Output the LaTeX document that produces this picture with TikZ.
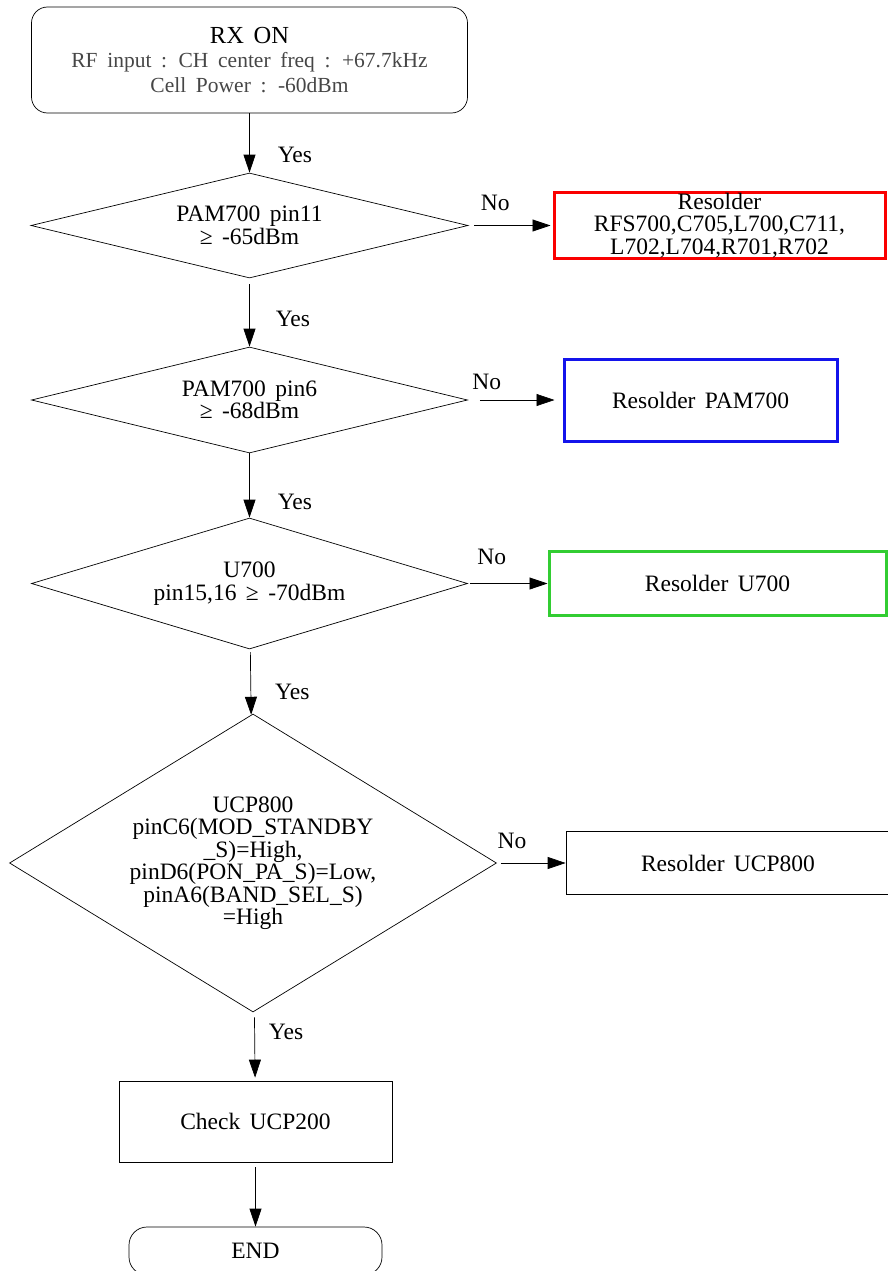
\documentclass[tikz,border=0pt]{standalone}
\usepackage{fontspec}
\setmainfont{Liberation Serif}
\usepackage{xcolor}
\usetikzlibrary{arrows.meta,positioning,shapes.geometric}
\definecolor{txtgray}{RGB}{70,70,70}
\definecolor{bdred}{RGB}{250,0,0}
\definecolor{bdblue}{RGB}{20,20,235}
\definecolor{bdgreen}{RGB}{50,205,50}
\newcommand\widesp{\spaceskip=0.4em plus 0.1em\relax}
\newcommand\widersp{\spaceskip=0.45em plus 0.1em\relax}

\begin{document}
\begin{tikzpicture}[
  x=1pt, y=-1pt, >={Triangle[length=18pt,width=12pt]}, line width=0.7pt,
  font=\fontsize{23.5}{22.5}\selectfont\widesp,
  term/.style={rectangle, rounded corners=16pt, draw, align=center, inner sep=0pt},
  test/.style={diamond, draw, align=center, inner sep=0pt},
  fixbox/.style={rectangle, draw, align=center, inner sep=0pt},
  lab/.style={inner sep=0pt}
]
\useasboundingbox (0,0) rectangle (887,1271);

% main column
\node[term, minimum width=436pt, minimum height=106pt, font=\fontsize{21.5}{24.5}\selectfont\widersp] (start) at (249.5,60)
  {{\fontsize{24.5}{24.5}\selectfont RX ON}\\\textcolor{txtgray}{RF input : CH center freq : +67.7kHz}\\\textcolor{txtgray}{Cell Power : -60dBm}};
\node[test, aspect=4.16, minimum width=437pt, minimum height=105pt] (pin11) at (249.5,225.5) {PAM700 pin11\\≥ -65dBm};
\node[test, aspect=4.11, minimum width=436pt, minimum height=106pt] (pin6) at (249.5,400) {PAM700 pin6\\≥ -68dBm};
\node[test, aspect=3.33, minimum width=436pt, minimum height=131pt] (u700) at (249.5,583.5) {U700\\pin15,16 ≥ -70dBm};
\node[test, aspect=1.63, minimum width=487pt, minimum height=298pt] (ucp) at (253,863)
  {UCP800\\pinC6(MOD\_STANDBY\\\_S)=High,\\pinD6(PON\_PA\_S)=Low,\\pinA6(BAND\_SEL\_S)\\=High};
\node[fixbox, minimum width=273pt, minimum height=81pt] (check) at (255.5,1121.5) {Check UCP200};
\node[term, rounded corners=18pt, minimum width=253pt, minimum height=48pt] (end) at (255.5,1251) {END};

% repair boxes
\node[fixbox, draw=bdred, line width=3pt, minimum width=331pt, minimum height=66pt] (fix1) at (719.5,225.5)
  {Resolder\\RFS700,C705,L700,C711,\\L702,L704,R701,R702};
\node[fixbox, draw=bdblue, line width=3pt, minimum width=273pt, minimum height=82pt] (fix2) at (700.5,400) {Resolder PAM700};
\node[fixbox, draw=bdgreen, line width=3pt, minimum width=337pt, minimum height=64pt] (fix3) at (717.5,583.5) {Resolder U700};
\node[fixbox, minimum width=324pt, minimum height=63pt] (fix4) at (728,863) {Resolder UCP800};

% yes branches
\draw[->] (start) -- node[lab, pos=0.7, right=28pt]{Yes} (pin11);
\draw[->, shorten <=6pt] (pin11) -- node[lab, pos=0.6, right=26pt]{Yes} (pin6);
\draw[->] (pin6) -- node[lab, pos=0.75, right=28pt]{Yes} (u700);
\draw[->, shorten <=3pt] (u700) -- node[lab, pos=0.65, right=24pt]{Yes} (ucp);
\draw[->, shorten <=6pt, shorten >=3pt] (ucp) -- node[lab, pos=0.3, right=14pt]{Yes} (check);
\draw[->, shorten <=5pt] (check) -- (end);

% no branches
\draw[->, shorten <=6pt, shorten >=2pt] (pin11) -- node[lab, pos=0.32, above=14pt]{No} (fix1);
\draw[->, shorten <=12pt, shorten >=8pt] (pin6) -- node[lab, pos=0.2, above=10pt]{No} (fix2);
\draw[->, shorten <=2pt] (u700) -- node[lab, pos=0.3, above=18pt]{No} (fix3);
\draw[->, shorten <=4pt] (ucp) -- node[lab, pos=0.22, above=14pt]{No} (fix4);
\end{tikzpicture}
\end{document}
